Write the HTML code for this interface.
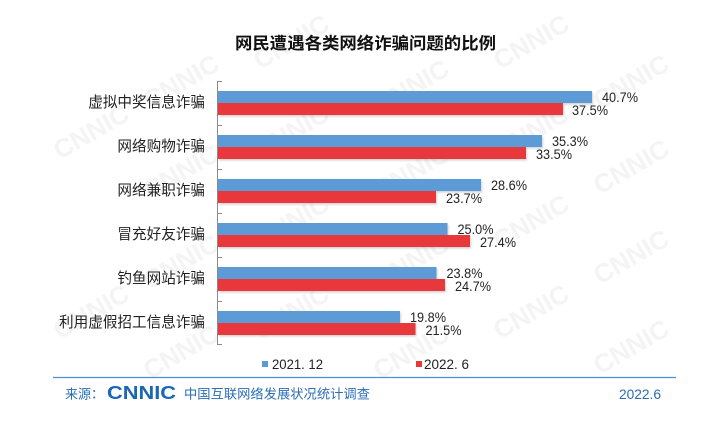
<!DOCTYPE html>
<html>
<head>
<meta charset="utf-8">
<style>
html,body{margin:0;padding:0;background:#fff;}
svg{display:block;}
</style>
</head>
<body>
<svg width="725" height="430" viewBox="0 0 725 430" xmlns="http://www.w3.org/2000/svg">
<defs>
<filter id="sh" x="-5%" y="-20%" width="110%" height="160%">
<feDropShadow dx="1" dy="1.5" stdDeviation="1" flood-color="#000" flood-opacity="0.18"/>
</filter>
</defs>
<rect width="725" height="430" fill="#fff"/>
<!-- watermark -->
<g font-family="Liberation Sans, sans-serif" font-weight="bold" font-size="26" fill="#f4f4f4">
<text transform="translate(150,110) rotate(-30)">CNNIC</text>
<text transform="translate(380,115) rotate(-30)">CNNIC</text>
<text transform="translate(600,110) rotate(-30)">CNNIC</text>
<text transform="translate(260,70) rotate(-30)">CNNIC</text>
<text transform="translate(500,70) rotate(-30)">CNNIC</text>
<text transform="translate(150,200) rotate(-30)">CNNIC</text>
<text transform="translate(380,200) rotate(-30)">CNNIC</text>
<text transform="translate(600,195) rotate(-30)">CNNIC</text>
<text transform="translate(260,160) rotate(-30)">CNNIC</text>
<text transform="translate(500,160) rotate(-30)">CNNIC</text>
<text transform="translate(150,290) rotate(-30)">CNNIC</text>
<text transform="translate(380,290) rotate(-30)">CNNIC</text>
<text transform="translate(600,285) rotate(-30)">CNNIC</text>
<text transform="translate(260,250) rotate(-30)">CNNIC</text>
<text transform="translate(500,250) rotate(-30)">CNNIC</text>
<text transform="translate(150,380) rotate(-30)">CNNIC</text>
<text transform="translate(380,380) rotate(-30)">CNNIC</text>
<text transform="translate(600,375) rotate(-30)">CNNIC</text>
<text transform="translate(260,340) rotate(-30)">CNNIC</text>
<text transform="translate(500,340) rotate(-30)">CNNIC</text>
<text transform="translate(60,340) rotate(-30)">CNNIC</text>
<text transform="translate(60,160) rotate(-30)">CNNIC</text>
</g>

<!-- title -->
<text x="235" y="44" dominant-baseline="central" font-family="Liberation Sans, 'Noto Sans CJK SC', sans-serif" font-weight="bold" font-size="16.5" fill="#111" textLength="261" lengthAdjust="spacingAndGlyphs">网民遭遇各类网络诈骗问题的比例</text>

<!-- axis -->
<g stroke="#8c8c8c" stroke-width="1">
<line x1="217.5" y1="81" x2="217.5" y2="345"/>
<line x1="217" y1="81.5" x2="222" y2="81.5"/>
<line x1="217" y1="125.5" x2="222" y2="125.5"/>
<line x1="217" y1="169.5" x2="222" y2="169.5"/>
<line x1="217" y1="213.5" x2="222" y2="213.5"/>
<line x1="217" y1="257.5" x2="222" y2="257.5"/>
<line x1="217" y1="301.5" x2="222" y2="301.5"/>
<line x1="217" y1="344.5" x2="222" y2="344.5"/>
</g>

<!-- category labels -->
<g font-family="Liberation Sans, 'Noto Sans CJK SC', sans-serif" font-size="14.6" fill="#222" text-anchor="end" dominant-baseline="central">
<text x="205" y="103">虚拟中奖信息诈骗</text>
<text x="205" y="147">网络购物诈骗</text>
<text x="205" y="191">网络兼职诈骗</text>
<text x="205" y="235">冒充好友诈骗</text>
<text x="205" y="279">钓鱼网站诈骗</text>
<text x="205" y="323">利用虚假招工信息诈骗</text>
</g>

<!-- bars -->
<g filter="url(#sh)">
<rect x="218" y="91" width="374" height="12" fill="#5b9bd5"/>
<rect x="218" y="103" width="345" height="12" fill="#e8383b"/>
<rect x="218" y="135" width="324" height="12" fill="#5b9bd5"/>
<rect x="218" y="147" width="308" height="12" fill="#e8383b"/>
<rect x="218" y="179" width="263" height="12" fill="#5b9bd5"/>
<rect x="218" y="191" width="218" height="12" fill="#e8383b"/>
<rect x="218" y="223" width="229.5" height="12" fill="#5b9bd5"/>
<rect x="218" y="235" width="252" height="12" fill="#e8383b"/>
<rect x="218" y="267" width="218.5" height="12" fill="#5b9bd5"/>
<rect x="218" y="279" width="227" height="12" fill="#e8383b"/>
<rect x="218" y="311" width="182" height="12" fill="#5b9bd5"/>
<rect x="218" y="323" width="197.5" height="12" fill="#e8383b"/>
</g>

<!-- value labels -->
<g font-family="Liberation Sans, sans-serif" font-size="13.5" fill="#222">
<text x="602" y="102" textLength="36" lengthAdjust="spacingAndGlyphs">40.7%</text>
<text x="572" y="115" textLength="36" lengthAdjust="spacingAndGlyphs">37.5%</text>
<text x="552" y="146" textLength="36" lengthAdjust="spacingAndGlyphs">35.3%</text>
<text x="536" y="159" textLength="36" lengthAdjust="spacingAndGlyphs">33.5%</text>
<text x="491" y="190" textLength="36" lengthAdjust="spacingAndGlyphs">28.6%</text>
<text x="446" y="203" textLength="36" lengthAdjust="spacingAndGlyphs">23.7%</text>
<text x="457.5" y="234" textLength="36" lengthAdjust="spacingAndGlyphs">25.0%</text>
<text x="480" y="247" textLength="36" lengthAdjust="spacingAndGlyphs">27.4%</text>
<text x="446.5" y="278" textLength="36" lengthAdjust="spacingAndGlyphs">23.8%</text>
<text x="455" y="291" textLength="36" lengthAdjust="spacingAndGlyphs">24.7%</text>
<text x="410" y="322" textLength="36" lengthAdjust="spacingAndGlyphs">19.8%</text>
<text x="425.5" y="335" textLength="36" lengthAdjust="spacingAndGlyphs">21.5%</text>
</g>

<!-- legend -->
<rect x="262" y="361" width="6" height="6" fill="#5b9bd5"/>
<text x="272" y="369" font-family="Liberation Sans, sans-serif" font-size="13.5" fill="#222" textLength="51" lengthAdjust="spacingAndGlyphs">2021. 12</text>
<rect x="416" y="361" width="6" height="6" fill="#e8383b"/>
<text x="424" y="369" font-family="Liberation Sans, sans-serif" font-size="13.5" fill="#222" textLength="45" lengthAdjust="spacingAndGlyphs">2022. 6</text>

<!-- footer -->
<line x1="53" y1="377.5" x2="676" y2="377.5" stroke="#4a8fd8" stroke-width="1.3"/>
<text x="65" y="394" dominant-baseline="central" font-family="Liberation Sans, 'Noto Sans CJK SC', sans-serif" font-size="13" fill="#2a6db5">来源：</text>
<text x="107" y="399" font-family="Liberation Sans, sans-serif" font-weight="bold" font-size="18" fill="#1a67b3" textLength="69" lengthAdjust="spacingAndGlyphs">CNNIC</text>
<text x="184" y="394" dominant-baseline="central" font-family="Liberation Sans, 'Noto Sans CJK SC', sans-serif" font-size="13" fill="#2a6db5" textLength="186" lengthAdjust="spacingAndGlyphs">中国互联网络发展状况统计调查</text>
<text x="619" y="399" font-family="Liberation Sans, sans-serif" font-size="13.5" fill="#2a6db5" textLength="42" lengthAdjust="spacingAndGlyphs">2022.6</text>
</svg>
</body>
</html>
